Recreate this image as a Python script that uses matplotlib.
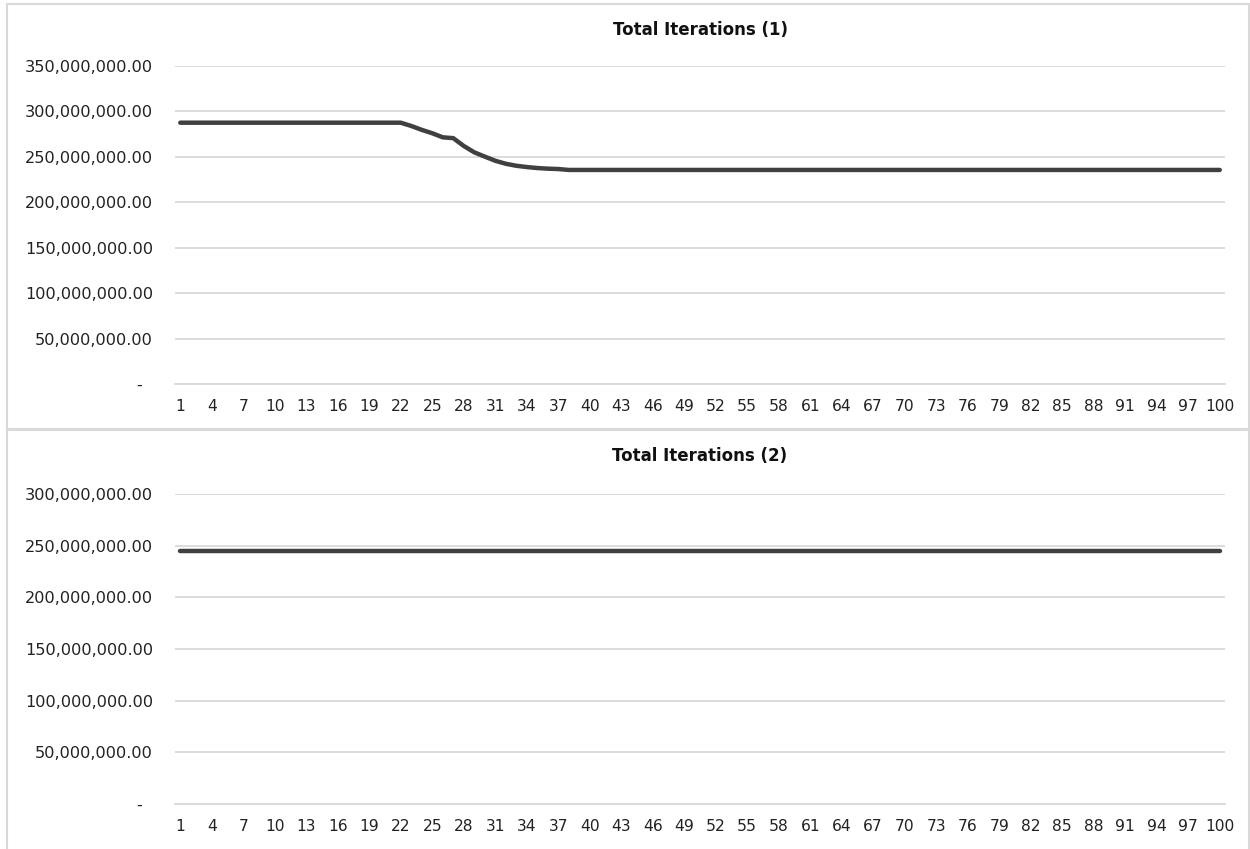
"""
Gráfica de iteraciones totales por corrida (dos escenarios apilados).
"""

import matplotlib.pyplot as plt
from matplotlib.patches import Rectangle
from matplotlib.ticker import FuncFormatter, FixedLocator, MultipleLocator

# corridas 1..100
corridas = list(range(1, 101))

# iteraciones totales (millones) - escenario 1
iter_1 = ([287.6] * 22
          + [284.0, 279.7, 276.0, 271.5, 270.6, 262.0, 255.0, 250.3,
             245.7, 242.4, 240.2, 238.8, 237.7, 237.0, 236.6]
          + [235.6] * 63)

# iteraciones totales (millones) - escenario 2
iter_2 = [244.8] * 100

titulos = ["Total Iterations (1)", "Total Iterations (2)"]
y_max = [350e6, 300e6]
etiquetas_x = list(range(1, 101, 3))

COLOR_LINEA = "#404040"
COLOR_GRID = "#d9d9d9"

plt.rcParams["font.family"] = ["DejaVu Sans"]


def fmt_contable(v, pos):
    # formato contable: el cero se muestra como guion
    if abs(v) < 1:
        return "-  "
    return f"{v:,.2f}"


W, H = 1250, 849
fig = plt.figure(figsize=(W / 100, H / 100), dpi=100)

# marcos de cada panel (px: x0, y0_top, x1, y1_bottom)
marcos = [(7, 4, 1249, 429), (7, 430, 1249, 852)]
for x0, y0, x1, y1 in marcos:
    fig.patches.append(Rectangle((x0 / W, 1 - y1 / H), (x1 - x0) / W, (y1 - y0) / H,
                                 transform=fig.transFigure, fill=False,
                                 edgecolor=COLOR_GRID, linewidth=1.5))

# áreas de trazado (px: izquierda, arriba, derecha, abajo)
areas = [(175, 66, 1225, 384), (175, 494, 1225, 804)]
series = [iter_1, iter_2]

for (l, t, r, b), serie, titulo, ymax, (mx0, my0, mx1, my1) in zip(areas, series, titulos, y_max, marcos):
    ax = fig.add_axes([l / W, 1 - b / H, (r - l) / W, (b - t) / H])
    valores = [v * 1e6 for v in serie]
    ax.plot(corridas, valores, color=COLOR_LINEA, linewidth=3.2,
            solid_capstyle="round", solid_joinstyle="round", zorder=3)

    ax.set_xlim(0.5, 100.5)
    ax.set_ylim(0, ymax)
    ax.yaxis.set_major_locator(MultipleLocator(50e6))
    ax.yaxis.set_major_formatter(FuncFormatter(fmt_contable))
    ax.xaxis.set_major_locator(FixedLocator(etiquetas_x))

    ax.grid(axis="y", color=COLOR_GRID, linewidth=1.3)
    ax.set_axisbelow(True)
    for lado in ["top", "right", "left"]:
        ax.spines[lado].set_visible(False)
    ax.spines["bottom"].set_color(COLOR_GRID)
    ax.spines["bottom"].set_linewidth(1.3)

    ax.tick_params(axis="y", length=0, pad=15.8, labelsize=11.6, labelcolor="#222222")
    ax.tick_params(axis="x", length=0, pad=11, labelsize=11.2, labelcolor="#222222")

    fig.text((l + r) / 2 / W, 1 - (my0 + 26) / H, titulo, ha="center", va="center",
             fontsize=12, fontweight="bold", color="#111111")

fig.savefig("out.png", dpi=100)
